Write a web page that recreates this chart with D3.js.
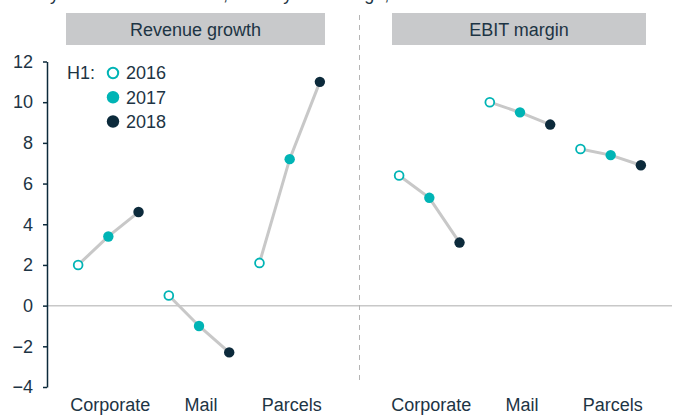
<!DOCTYPE html>
<html>
<head>
<meta charset="utf-8">
<script src="https://cdn.jsdelivr.net/npm/d3@7"></script>
<style>
  body { margin: 0; background: #fff; }
  svg { font-family: "Liberation Sans", Arial, sans-serif; }
</style>
</head>
<body>
<div id="chart"></div>
<script>
var width = 678;
var height = 415;

var panels = ['Revenue growth', 'EBIT margin'];
var divisions = ['Corporate', 'Mail', 'Parcels'];
var years = ['2016', '2017', '2018'];
var yTicks = [-4, -2, 0, 2, 4, 6, 8, 10, 12];

// H1 values in %, one array per division, years 2016..2018
var revenueGrowth = [
  [2.0, 3.4, 4.6],
  [0.5, -1.0, -2.3],
  [2.1, 7.2, 11.0]
];
var ebitMargin = [
  [6.4, 5.3, 3.1],
  [10.0, 9.5, 8.9],
  [7.7, 7.4, 6.9]
];
var panelValues = [revenueGrowth, ebitMargin];

var teal = '#00b4b5';
var navy = '#0c2a3b';
var textColor = '#1d3444';
var lineGrey = '#c8c8c8';
var yearColors = { '2016': teal, '2017': teal, '2018': navy };

var svg = d3.select('#chart')
  .append('svg')
  .attr('width', width)
  .attr('height', height);

var y = d3.scaleLinear()
  .domain([-4, 12])
  .range([387, 61.5]);

var xPanel = d3.scaleBand()
  .domain(panels)
  .range([63, 656])
  .paddingInner(0.1526);

var xDiv = d3.scaleBand()
  .domain(divisions)
  .range([0, xPanel.bandwidth()]);

var xYear = d3.scalePoint()
  .domain(years)
  .range([-30.2, 30.2]);

// heading line, cut off at the top edge (only descenders show)
svg.append('text')
  .attr('x', 28)
  .attr('y', 0)
  .attr('font-size', 18)
  .attr('fill', textColor)
  .text('Key data of the divisions, in % by H1 change, H1 2016\u20132018');

// zero line
svg.append('line')
  .attr('x1', 47)
  .attr('x2', 672)
  .attr('y1', y(0))
  .attr('y2', y(0))
  .attr('stroke', lineGrey)
  .attr('stroke-width', 1.5);

// dashed separator between the panels
svg.append('line')
  .attr('x1', 359.5)
  .attr('x2', 359.5)
  .attr('y1', 15)
  .attr('y2', 381)
  .attr('stroke', '#b5b5b5')
  .attr('stroke-width', 1)
  .attr('stroke-dasharray', '5,5');

// y axis
var yAxis = svg.append('g')
  .attr('transform', 'translate(47,0)')
  .call(d3.axisLeft(y).tickValues(yTicks).tickSize(4).tickPadding(10).tickSizeOuter(0));
yAxis.select('.domain').attr('stroke', navy).attr('stroke-width', 1.5);
yAxis.selectAll('.tick line').attr('stroke', navy).attr('stroke-width', 1.5);
yAxis.selectAll('.tick text')
  .attr('fill', textColor)
  .attr('font-size', 18)
  .attr('font-family', '"Liberation Sans", Arial, sans-serif');

panels.forEach(function(panel, pi) {
  var g = svg.append('g')
    .attr('transform', 'translate(' + xPanel(panel) + ',0)');

  // header box
  var boxX = pi === 0 ? 3 : 8;
  g.append('rect')
    .attr('x', boxX)
    .attr('y', 13)
    .attr('width', xPanel.bandwidth() - 10 - boxX)
    .attr('height', 32)
    .attr('fill', '#c8c9cb');
  g.append('text')
    .attr('x', boxX + (xPanel.bandwidth() - 10 - boxX) / 2)
    .attr('y', 36)
    .attr('text-anchor', 'middle')
    .attr('font-size', 18)
    .attr('fill', textColor)
    .text(panel);

  var values = panelValues[pi];

  divisions.forEach(function(div, di) {
    var cx = xDiv(div) + xDiv.bandwidth() / 2;
    var pts = years.map(function(yr, yi) {
      return { year: yr, value: values[di][yi] };
    });

    g.append('path')
      .datum(pts)
      .attr('fill', 'none')
      .attr('stroke', lineGrey)
      .attr('stroke-width', 3)
      .attr('d', d3.line()
        .x(function(d) { return cx + xYear(d.year); })
        .y(function(d) { return y(d.value); }));

    g.selectAll('circle.d' + di)
      .data(pts)
      .enter()
      .append('circle')
      .attr('class', 'd' + di)
      .attr('cx', function(d) { return cx + xYear(d.year); })
      .attr('cy', function(d) { return y(d.value); })
      .attr('r', function(d) { return d.year === '2016' ? 4.4 : 5.2; })
      .attr('fill', function(d) { return d.year === '2016' ? '#fff' : yearColors[d.year]; })
      .attr('stroke', function(d) { return d.year === '2016' ? teal : 'none'; })
      .attr('stroke-width', 1.8);

    g.append('text')
      .attr('x', cx + 2)
      .attr('y', 411)
      .attr('text-anchor', 'middle')
      .attr('font-size', 18)
      .attr('fill', textColor)
      .text(div);
  });
});

// legend
var legend = svg.append('g');
legend.append('text')
  .attr('x', 67)
  .attr('y', 73)
  .attr('dy', '0.35em')
  .attr('font-size', 18)
  .attr('fill', textColor)
  .text('H1:');

var legendY = d3.scalePoint()
  .domain(years)
  .range([73, 121.5]);

years.forEach(function(yr) {
  legend.append('circle')
    .attr('cx', 113)
    .attr('cy', legendY(yr))
    .attr('r', yr === '2016' ? 5.2 : 6.2)
    .attr('fill', yr === '2016' ? '#fff' : yearColors[yr])
    .attr('stroke', yr === '2016' ? teal : 'none')
    .attr('stroke-width', 2);
  legend.append('text')
    .attr('x', 126)
    .attr('y', legendY(yr))
    .attr('dy', '0.35em')
    .attr('font-size', 18)
    .attr('fill', textColor)
    .text(yr);
});
</script>
</body>
</html>
